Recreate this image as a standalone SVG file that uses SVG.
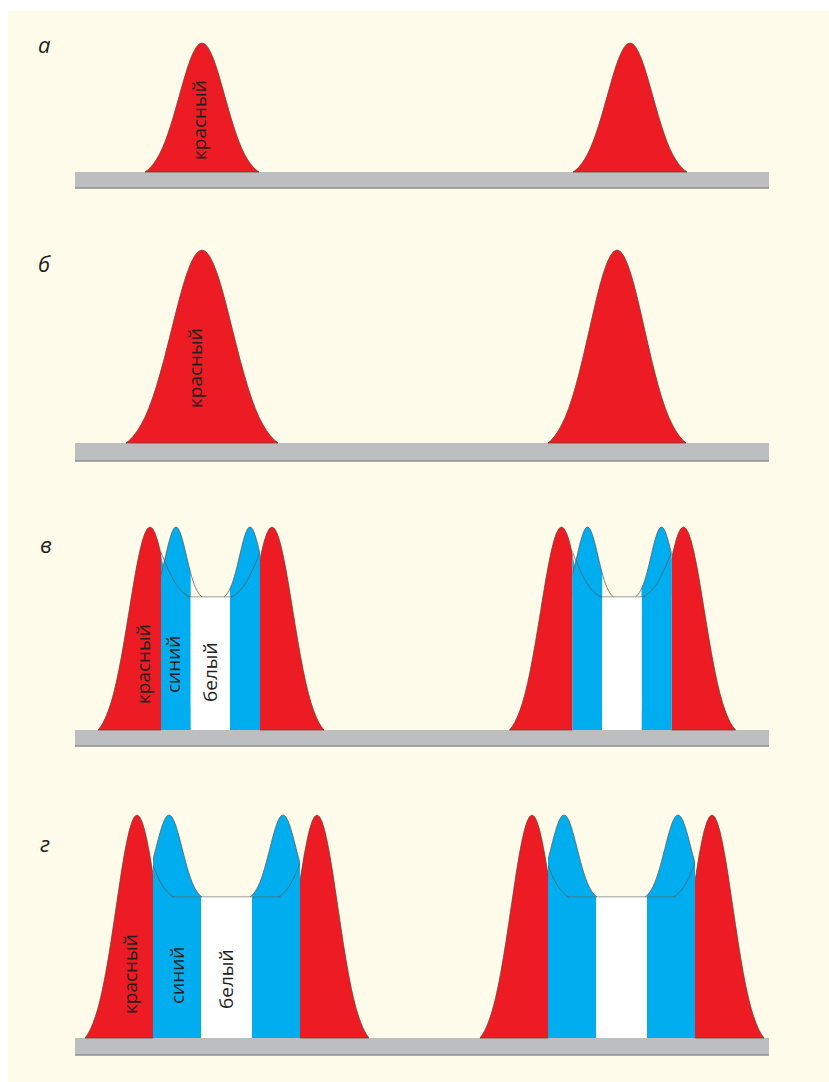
<svg xmlns="http://www.w3.org/2000/svg" xmlns:xlink="http://www.w3.org/1999/xlink" width="829" height="1082" viewBox="0 0 829 1082">
<style>
.lbl{font-family:"Open Sans","Noto Sans","Liberation Sans",sans-serif;font-style:italic;font-size:22px;fill:#231F20}
.t{font-family:"Open Sans","Noto Sans","Liberation Sans",sans-serif;font-size:19px;fill:#231F20}
.red{fill:#ED1C24;stroke:#7a3a30;stroke-width:0.8}
.blue{fill:#00AEEF}
.white{fill:#FFFFFF}
.bar{fill:#BCBEC0}
.barline{stroke:#8d8f91;stroke-width:1.5}
.ol{fill:none;stroke:#5a5f5f;stroke-width:0.8}
</style>
<defs>
<path id="bell" vector-effect="non-scaling-stroke" d="M-100,0 L-95,-1.6 -90,-3.7 -85,-6.4 -80,-9.6 -75,-13.4 -70,-18 -65,-23.3 -60,-29.4 -55,-36.1 -50,-43.3 -45,-51 -40,-58.8 -35,-66.7 -30,-74.4 -25,-81.5 -20,-87.7 -15,-92.9 -10,-96.8 -5,-99.2 0,-100 5,-99.2 10,-96.8 15,-92.9 20,-87.7 25,-81.5 30,-74.4 35,-66.7 40,-58.8 45,-51 50,-43.3 55,-36.1 60,-29.4 65,-23.3 70,-18 75,-13.4 80,-9.6 85,-6.4 90,-3.7 95,-1.6 100,0 Z"/>
<path id="bline" vector-effect="non-scaling-stroke" d="M-100,0 L-95,-1.6 -90,-3.7 -85,-6.4 -80,-9.6 -75,-13.4 -70,-18 -65,-23.3 -60,-29.4 -55,-36.1 -50,-43.3 -45,-51 -40,-58.8 -35,-66.7 -30,-74.4 -25,-81.5 -20,-87.7 -15,-92.9 -10,-96.8 -5,-99.2 0,-100 5,-99.2 10,-96.8 15,-92.9 20,-87.7 25,-81.5 30,-74.4 35,-66.7 40,-58.8 45,-51 50,-43.3 55,-36.1 60,-29.4 65,-23.3 70,-18 75,-13.4 80,-9.6 85,-6.4 90,-3.7 95,-1.6 100,0"/>
<clipPath id="cvL1"><rect x="0" y="0" width="161" height="1082"/></clipPath>
<clipPath id="cvR1"><rect x="260" y="0" width="300" height="1082"/></clipPath>
<clipPath id="cvB1"><rect x="161" y="0" width="29.7" height="1082"/></clipPath>
<clipPath id="cvB2"><rect x="230" y="0" width="30" height="1082"/></clipPath>
<clipPath id="cvO1"><rect x="161" y="0" width="99" height="597.5"/></clipPath>
<clipPath id="cgL1"><rect x="0" y="0" width="153" height="1082"/></clipPath>
<clipPath id="cgR1"><rect x="300" y="0" width="130" height="1082"/></clipPath>
<clipPath id="cgB1"><rect x="153" y="0" width="48" height="1082"/></clipPath>
<clipPath id="cgB2"><rect x="252" y="0" width="48" height="1082"/></clipPath>
<clipPath id="cgO1"><rect x="153" y="0" width="147" height="897.5"/></clipPath>
</defs>
<rect x="0" y="0" width="829" height="1082" fill="#FFFFFF"/>
<rect x="8" y="11" width="821" height="1071" fill="#FEFBEA"/>

<g id="panel-a">
<text class="lbl" x="38" y="53">а</text>
<rect class="bar" x="75" y="172" width="694" height="16"/>
<line class="barline" x1="75" y1="188" x2="769" y2="188"/>
<use href="#bell" class="red" transform="translate(202,172) scale(0.57,1.29)"/>
<use href="#bell" class="red" transform="translate(630,172) scale(0.57,1.29)"/>
<text class="t" transform="translate(206,160) rotate(-90)">красный</text>
</g>

<g id="panel-b">
<text class="lbl" x="38" y="272">б</text>
<rect class="bar" x="75" y="443" width="694" height="18"/>
<line class="barline" x1="75" y1="461" x2="769" y2="461"/>
<use href="#bell" class="red" transform="translate(202,443) scale(0.76,1.93)"/>
<use href="#bell" class="red" transform="translate(617,443) scale(0.69,1.93)"/>
<text class="t" transform="translate(202,408) rotate(-90)">красный</text>
</g>

<g id="panel-v">
<text class="lbl" x="40" y="553">в</text>
<rect class="bar" x="75" y="730" width="694" height="16"/>
<line class="barline" x1="75" y1="746" x2="769" y2="746"/>
<g id="v-left">
<g clip-path="url(#cvL1)"><use href="#bell" class="red" transform="translate(150,730) scale(0.52,2.03)"/></g>
<g clip-path="url(#cvR1)"><use href="#bell" class="red" transform="translate(272,730) scale(0.52,2.03)"/></g>
<g clip-path="url(#cvB1)" class="blue"><rect x="161" y="597" width="30" height="133"/><use href="#bell" transform="translate(176,597) scale(0.26,0.7)"/><use href="#bell" transform="translate(150,730) scale(0.52,2.03)"/></g>
<g clip-path="url(#cvB2)" class="blue"><rect x="230" y="597" width="30" height="133"/><use href="#bell" transform="translate(250,597) scale(0.26,0.7)"/><use href="#bell" transform="translate(272,730) scale(0.52,2.03)"/></g>
<rect class="white" x="190.7" y="597" width="39.3" height="133"/>
<g clip-path="url(#cvO1)" class="ol"><use href="#bline" transform="translate(176,597) scale(0.26,0.7)"/><use href="#bline" transform="translate(250,597) scale(0.26,0.7)"/><use href="#bline" transform="translate(144,597) scale(0.46,0.7)"/><use href="#bline" transform="translate(277,597) scale(0.46,0.7)"/><line x1="187" y1="597" x2="234" y2="597"/></g>
<text class="t" transform="translate(150,704) rotate(-90)">красный</text>
<text class="t" transform="translate(180,693) rotate(-90)">синий</text>
<text class="t" transform="translate(217,702) rotate(-90)">белый</text>
</g>
<g id="v-right" transform="translate(411.5,0)">
<g clip-path="url(#cvL1)"><use href="#bell" class="red" transform="translate(150,730) scale(0.52,2.03)"/></g>
<g clip-path="url(#cvR1)"><use href="#bell" class="red" transform="translate(272,730) scale(0.52,2.03)"/></g>
<g clip-path="url(#cvB1)" class="blue"><rect x="161" y="597" width="30" height="133"/><use href="#bell" transform="translate(176,597) scale(0.26,0.7)"/><use href="#bell" transform="translate(150,730) scale(0.52,2.03)"/></g>
<g clip-path="url(#cvB2)" class="blue"><rect x="230" y="597" width="30" height="133"/><use href="#bell" transform="translate(250,597) scale(0.26,0.7)"/><use href="#bell" transform="translate(272,730) scale(0.52,2.03)"/></g>
<rect class="white" x="190.7" y="597" width="39.3" height="133"/>
<g clip-path="url(#cvO1)" class="ol"><use href="#bline" transform="translate(176,597) scale(0.26,0.7)"/><use href="#bline" transform="translate(250,597) scale(0.26,0.7)"/><use href="#bline" transform="translate(144,597) scale(0.46,0.7)"/><use href="#bline" transform="translate(277,597) scale(0.46,0.7)"/><line x1="187" y1="597" x2="234" y2="597"/></g>
</g>
</g>

<g id="panel-g">
<text class="lbl" x="40" y="852">г</text>
<rect class="bar" x="75" y="1038" width="694" height="17"/>
<line class="barline" x1="75" y1="1055" x2="769" y2="1055"/>
<g id="g-left">
<g clip-path="url(#cgL1)"><use href="#bell" class="red" transform="translate(137,1038) scale(0.52,2.23)"/></g>
<g clip-path="url(#cgR1)"><use href="#bell" class="red" transform="translate(317,1038) scale(0.52,2.23)"/></g>
<g clip-path="url(#cgB1)" class="blue"><rect x="153" y="897" width="48" height="141"/><use href="#bell" transform="translate(169,897) scale(0.33,0.82)"/><use href="#bell" transform="translate(137,1038) scale(0.52,2.23)"/></g>
<g clip-path="url(#cgB2)" class="blue"><rect x="252" y="897" width="48" height="141"/><use href="#bell" transform="translate(283,897) scale(0.33,0.82)"/><use href="#bell" transform="translate(317,1038) scale(0.52,2.23)"/></g>
<rect class="white" x="201" y="897" width="51" height="141"/>
<g clip-path="url(#cgO1)" class="ol"><use href="#bline" transform="translate(169,897) scale(0.33,0.82)"/><use href="#bline" transform="translate(283,897) scale(0.33,0.82)"/><use href="#bline" transform="translate(129,897) scale(0.45,0.82)"/><use href="#bline" transform="translate(323,897) scale(0.45,0.82)"/><line x1="171" y1="897" x2="281" y2="897"/></g>
<text class="t" transform="translate(137,1014) rotate(-90)">красный</text>
<text class="t" transform="translate(184,1004) rotate(-90)">синий</text>
<text class="t" transform="translate(233,1009) rotate(-90)">белый</text>
</g>
<g id="g-right" transform="translate(395,0)">
<g clip-path="url(#cgL1)"><use href="#bell" class="red" transform="translate(137,1038) scale(0.52,2.23)"/></g>
<g clip-path="url(#cgR1)"><use href="#bell" class="red" transform="translate(317,1038) scale(0.52,2.23)"/></g>
<g clip-path="url(#cgB1)" class="blue"><rect x="153" y="897" width="48" height="141"/><use href="#bell" transform="translate(169,897) scale(0.33,0.82)"/><use href="#bell" transform="translate(137,1038) scale(0.52,2.23)"/></g>
<g clip-path="url(#cgB2)" class="blue"><rect x="252" y="897" width="48" height="141"/><use href="#bell" transform="translate(283,897) scale(0.33,0.82)"/><use href="#bell" transform="translate(317,1038) scale(0.52,2.23)"/></g>
<rect class="white" x="201" y="897" width="51" height="141"/>
<g clip-path="url(#cgO1)" class="ol"><use href="#bline" transform="translate(169,897) scale(0.33,0.82)"/><use href="#bline" transform="translate(283,897) scale(0.33,0.82)"/><use href="#bline" transform="translate(129,897) scale(0.45,0.82)"/><use href="#bline" transform="translate(323,897) scale(0.45,0.82)"/><line x1="171" y1="897" x2="281" y2="897"/></g>
</g>
</g>
</svg>
